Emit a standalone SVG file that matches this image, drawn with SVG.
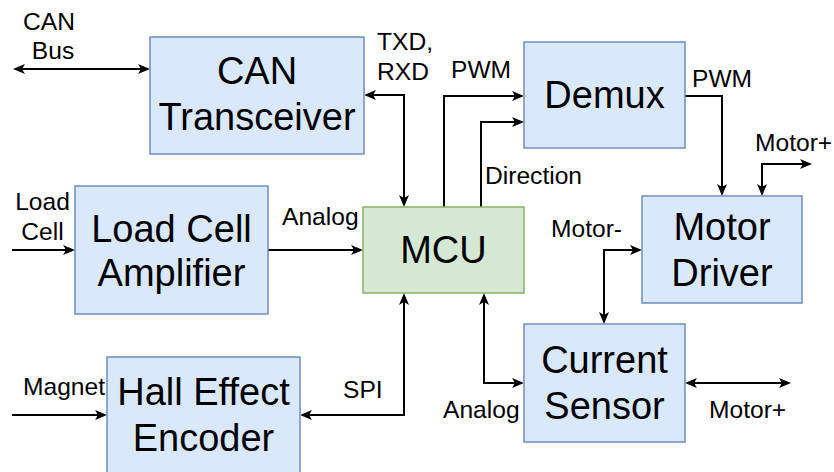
<svg xmlns="http://www.w3.org/2000/svg" width="834" height="472" viewBox="0 0 834 472">
  <style>
    .blk { fill: #dae8fc; stroke: #6c8ebf; stroke-width: 1.5; }
    .mcu { fill: #d5e8d4; stroke: #82b366; stroke-width: 1.5; }
    .big { font-family: "Liberation Sans", Arial, sans-serif; font-size: 38px; fill: #000; text-anchor: middle; }
    .lbl { font-family: "Liberation Sans", Arial, sans-serif; font-size: 24.6px; fill: #000; }
    .mid { text-anchor: middle; }
    .wire { fill: none; stroke: #000; stroke-width: 2; }
    .one { marker-end: url(#head); }
    .two { marker-start: url(#head); marker-end: url(#head); }
  </style>
  <defs>
    <!-- notched arrowhead; anchor sits 7px behind the tip -->
    <marker id="head" viewBox="0 0 12 10" refX="5" refY="5" markerWidth="12" markerHeight="10" markerUnits="userSpaceOnUse" orient="auto-start-reverse">
      <path d="M0,0 L12,5 L0,10 L3,5 Z" fill="#000"/>
    </marker>
  </defs>

  <g id="connectors">
    <path class="wire two" d="M20,69 H143"/>
    <path class="wire two" d="M404,200 V95 H371"/>
    <path class="wire one" d="M12,250 H68"/>
    <path class="wire one" d="M268,250 H356"/>
    <path class="wire one" d="M444,207 V96 H517"/>
    <path class="wire one" d="M481,207 V122 H517"/>
    <path class="wire one" d="M685,96 H722 V189"/>
    <path class="wire two" d="M762,189 V164 H805"/>
    <path class="wire two" d="M635,250 H604 V317"/>
    <path class="wire two" d="M484,300 V383 H517"/>
    <path class="wire two" d="M692,383 H784"/>
    <path class="wire two" d="M404,300 V415 H307"/>
    <path class="wire one" d="M12,415 H100"/>
  </g>

  <g id="edge-labels">
    <text class="lbl mid" x="49" y="30">CAN</text>
    <text class="lbl mid" x="53" y="59">Bus</text>
    <text class="lbl mid" x="405" y="50">TXD,</text>
    <text class="lbl mid" x="403" y="80">RXD</text>
    <text class="lbl" x="451" y="77.5">PWM</text>
    <text class="lbl" x="692" y="86.5">PWM</text>
    <text class="lbl" x="485" y="184">Direction</text>
    <text class="lbl" x="755" y="151">Motor+</text>
    <text class="lbl mid" x="42.5" y="210">Load</text>
    <text class="lbl mid" x="42.5" y="240">Cell</text>
    <text class="lbl" x="282" y="225">Analog</text>
    <text class="lbl" x="551" y="236.5">Motor-</text>
    <text class="lbl" x="23" y="395">Magnet</text>
    <text class="lbl" x="343" y="398">SPI</text>
    <text class="lbl" x="443" y="418">Analog</text>
    <text class="lbl" x="709" y="418">Motor+</text>
  </g>

  <g id="can-transceiver">
    <rect class="blk" x="150" y="37" width="214" height="117"/>
    <text class="big" x="257" y="84">CAN</text>
    <text class="big" x="257" y="130">Transceiver</text>
  </g>
  <g id="load-cell-amplifier">
    <rect class="blk" x="75" y="186" width="193" height="128"/>
    <text class="big" x="171.5" y="242">Load Cell</text>
    <text class="big" x="171.5" y="286">Amplifier</text>
  </g>
  <g id="mcu">
    <rect class="mcu" x="363" y="207" width="161" height="86"/>
    <text class="big" x="443.5" y="263">MCU</text>
  </g>
  <g id="demux">
    <rect class="blk" x="524" y="42" width="161" height="106"/>
    <text class="big" x="604.5" y="108">Demux</text>
  </g>
  <g id="motor-driver">
    <rect class="blk" x="642" y="196" width="160" height="107"/>
    <text class="big" x="722" y="240">Motor</text>
    <text class="big" x="722" y="286">Driver</text>
  </g>
  <g id="current-sensor">
    <rect class="blk" x="524" y="324" width="161" height="118"/>
    <text class="big" x="604.5" y="373">Current</text>
    <text class="big" x="604.5" y="419">Sensor</text>
  </g>
  <g id="hall-effect-encoder">
    <rect class="blk" x="107" y="357" width="193" height="125"/>
    <text class="big" x="203.5" y="405">Hall Effect</text>
    <text class="big" x="203.5" y="451">Encoder</text>
  </g>
</svg>
